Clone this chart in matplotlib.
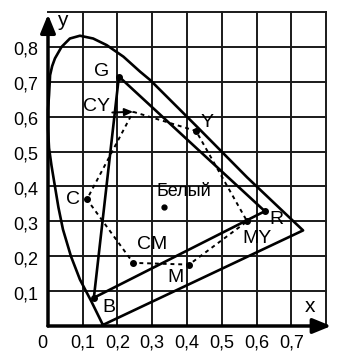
import matplotlib.pyplot as plt

plt.rcParams['font.family'] = ['Liberation Sans', 'DejaVu Sans']

# spectral locus (x, y chromaticity)
locus_x = [0.158, 0.125, 0.092, 0.066, 0.043, 0.030, 0.020, 0.010, 0.003, 0.000,
           0.000, 0.003, 0.006, 0.012, 0.020, 0.039, 0.063, 0.092, 0.130, 0.169,
           0.217, 0.265, 0.294, 0.430, 0.573, 0.734, 0.158]
locus_y = [0.003, 0.070, 0.133, 0.200, 0.277, 0.340, 0.400, 0.460, 0.510, 0.565,
           0.620, 0.662, 0.719, 0.745, 0.767, 0.800, 0.824, 0.832, 0.824, 0.805,
           0.772, 0.729, 0.705, 0.570, 0.426, 0.274, 0.003]

# primaries triangle G-B-R
prim_names = ['G', 'B', 'R']
prim_x = [0.204, 0.132, 0.624]
prim_y = [0.715, 0.081, 0.329]

# secondary hexagon CY-Y-MY-M-CM-C
sec_names = ['CY', 'Y', 'MY', 'M', 'CM', 'C']
sec_x = [0.245, 0.426, 0.573, 0.406, 0.245, 0.112]
sec_y = [0.614, 0.559, 0.300, 0.176, 0.181, 0.363]

white_x, white_y = 0.334, 0.340

x_ticks = [0.0, 0.1, 0.2, 0.3, 0.4, 0.5, 0.6, 0.7]
x_labels = ['0', '0,1', '0,2', '0,3', '0,4', '0,5', '0,6', '0,7']
y_ticks = [0.1, 0.2, 0.3, 0.4, 0.5, 0.6, 0.7, 0.8]
y_labels = ['0,1', '0,2', '0,3', '0,4', '0,5', '0,6', '0,7', '0,8']

fig = plt.figure(figsize=(3.49, 3.62), dpi=100)
ax = fig.add_axes([48 / 349, 36 / 362, 278 / 349, 314 / 362])
ax.set_xlim(0, 0.8)
ax.set_ylim(0, 0.9)
for s in ax.spines.values():
    s.set_visible(False)
ax.set_xticks([])
ax.set_yticks([])

# grid
for i in range(1, 9):
    ax.plot([i / 10, i / 10], [0, 0.9], color='#1a1a1a', lw=1.4, clip_on=False)
for i in range(1, 10):
    ax.plot([0, 0.8], [i / 10, i / 10], color='#1a1a1a', lw=1.4, clip_on=False)

# axes with arrows
ax.annotate('', xy=(0.815, 0), xytext=(0, 0), annotation_clip=False,
            arrowprops=dict(arrowstyle='-|>,head_length=1.1,head_width=0.45',
                            color='black', lw=2.5, shrinkA=0, shrinkB=0))
ax.annotate('', xy=(0, 0.893), xytext=(0, 0), annotation_clip=False,
            arrowprops=dict(arrowstyle='-|>,head_length=1.1,head_width=0.45',
                            color='black', lw=2.5, shrinkA=0, shrinkB=0))
ax.text(0.755, 0.055, 'x', fontsize=15, ha='center', va='center')
ax.text(0.04, 0.875, 'y', fontsize=15, ha='center', va='center')

for t, lab in zip(x_ticks, x_labels):
    xt = t - 0.017 if lab == '0' else t
    ax.text(xt, -0.05, lab, fontsize=13, ha='center', va='center')
for t, lab in zip(y_ticks, y_labels):
    ax.text(-0.027, t - 0.01, lab, fontsize=13, ha='right', va='center')

# spectral locus
ax.plot(locus_x, locus_y, color='black', lw=1.9, clip_on=False)

# primaries triangle
ax.plot(prim_x + prim_x[:1], prim_y + prim_y[:1], color='black', lw=1.9)
ax.plot(prim_x, prim_y, 'o', color='black', ms=4)

# secondary hexagon
ax.plot(sec_x + sec_x[:1], sec_y + sec_y[:1], color='black', lw=1.4,
        linestyle=(0, (2, 2)))
ax.plot(sec_x[1:], sec_y[1:], 'o', color='black', ms=4)

# white point
ax.plot([white_x], [white_y], 'o', color='black', ms=3.5)
ax.text(0.39, 0.385, 'Белый', fontsize=13, ha='center', va='center')

# labels
fs = 14
ax.text(0.153, 0.730, 'G', fontsize=fs, ha='center', va='center')
ax.text(0.175, 0.053, 'B', fontsize=fs, ha='center', va='center')
ax.text(0.657, 0.305, 'R', fontsize=fs, ha='center', va='center')
ax.text(0.600, 0.252, 'MY', fontsize=fs, ha='center', va='center')
ax.text(0.366, 0.140, 'M', fontsize=fs, ha='center', va='center')
ax.text(0.300, 0.235, 'CM', fontsize=fs, ha='center', va='center')
ax.text(0.072, 0.362, 'C', fontsize=fs, ha='center', va='center')
ax.text(0.457, 0.583, 'Y', fontsize=fs, ha='center', va='center')
ax.text(0.140, 0.628, 'CY', fontsize=fs, ha='center', va='center')
ax.annotate('', xy=(sec_x[0], sec_y[0]), xytext=(0.185, 0.612),
            arrowprops=dict(arrowstyle='-|>,head_length=0.5,head_width=0.22',
                            color='black', lw=1.4, shrinkA=0, shrinkB=0))

fig.savefig('out.png', dpi=100)
